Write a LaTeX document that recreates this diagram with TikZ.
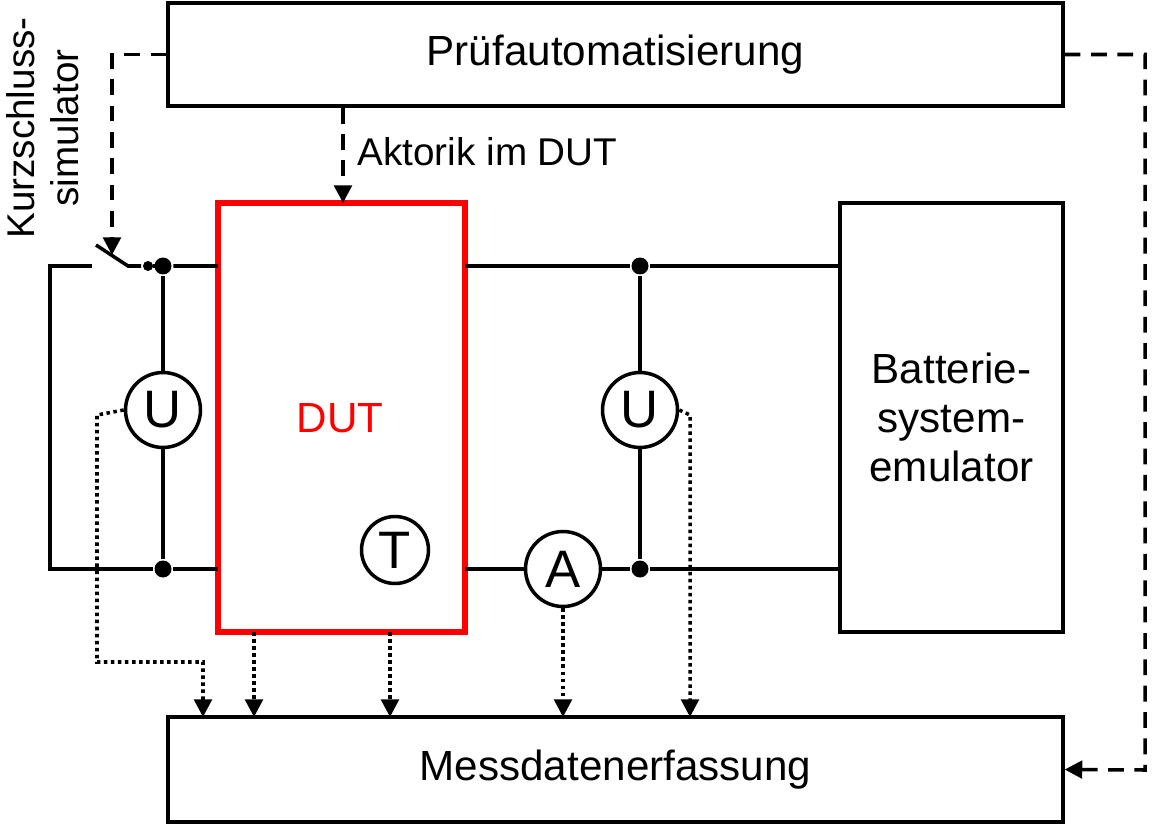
\documentclass[tikz,border=0pt]{standalone}
\usepackage{fontspec}
\setmainfont{Liberation Sans}
\usetikzlibrary{arrows.meta,positioning}
\begin{document}
\begin{tikzpicture}[
    x=0.02cm, y=-0.02cm,
    every path/.style={line width=2pt},
    box/.style={draw, rectangle, inner sep=0, font=\fontsize{24}{28}\selectfont},
    meter/.style={draw, circle, fill=white, minimum size=1.5cm, inner sep=0, font=\fontsize{30}{32}\selectfont},
    junc/.style={circle, fill=black, inner sep=0, minimum size=0.34cm},
    ctrl/.style={dash pattern=on 9pt off 6pt, -{Triangle[length=10pt,width=10pt]}},
    meas/.style={dash pattern=on 2pt off 2pt, -{Triangle[length=10pt,width=10pt]}}]
\useasboundingbox (0,0) rectangle (1155,827);
% boxes
\node[box, minimum width=17.9cm, minimum height=2.06cm] (pa) at (615.5,54.5) {Prüfautomatisierung};
\node[box, minimum width=17.9cm, minimum height=2.1cm] (md) at (615.5,769.5) {Messdatenerfassung};
\node[box, minimum width=4.46cm, minimum height=8.58cm, align=center] (bse) at (951.5,417.5) {Batterie-\\system-\\emulator};
\node[draw=red, line width=3.6pt, rectangle, minimum width=4.94cm, minimum height=8.58cm] (dut) at (341.5,417.5) {};
\node[text=red, font=\fontsize{24}{28}\selectfont] (dutl) at (340,418) {DUT};
% wiring
\coordinate (sw0) at (92,266);
\coordinate (sw1) at (128,266);
\coordinate (swb) at (96,245);
\node[junc] (j1) at (163,266) {};
\node[junc] (j2) at (163,569) {};
\node[junc] (j3) at (640,266) {};
\node[junc] (j4) at (640,569) {};
\node[circle, fill=black, inner sep=0, minimum size=0.2cm] (js) at (148,266) {};
\draw (sw0) -- (50,266) -- (50,569) -- (j2) -- (218,569);
\draw (swb) -- (sw1) -- (js) -- (j1) -- (218,266);
\draw (465,266) -- (j3) -- (840,266);
\node[meter] (u1) at (163,410) {U};
\node[meter] (u2) at (640,410) {U};
\node[meter] (am) at (563,569) {A};
\node[meter, minimum size=1.34cm] (tm) at (395,550) {T};
\draw (j1) -- (u1) -- (j2);
\draw (j3) -- (u2) -- (j4);
\draw (465,569) -- (am) -- (j4) -- (840,569);
% control lines
\draw[ctrl] (pa.west) -- (112,54.5) -- (112,255);
\draw[ctrl] (pa.east) -- (1145,54.5) -- (1145,770) -- (md.east);
\draw[ctrl] (pa.south -| 343,0) -- (343,203);
\node[anchor=west, font=\fontsize{22}{26}\selectfont] (akt) at (350,152) {Aktorik im DUT};
% measurement lines
\draw[meas] (u1.west) -- (97,415) -- (97,662) -- (203,662) -- (203,717);
\draw[meas] (254,632) -- (254,717);
\draw[meas] (390,632) -- (390,717);
\draw[meas] (am.south) -- (563,717);
\draw[meas] (u2.east) -- (690,415) -- (690,717);
% label
\node[rotate=90, align=center, font=\fontsize{22}{25}\selectfont] (ks) at (43,128) {Kurzschluss-\\simulator};
\end{tikzpicture}
\end{document}
